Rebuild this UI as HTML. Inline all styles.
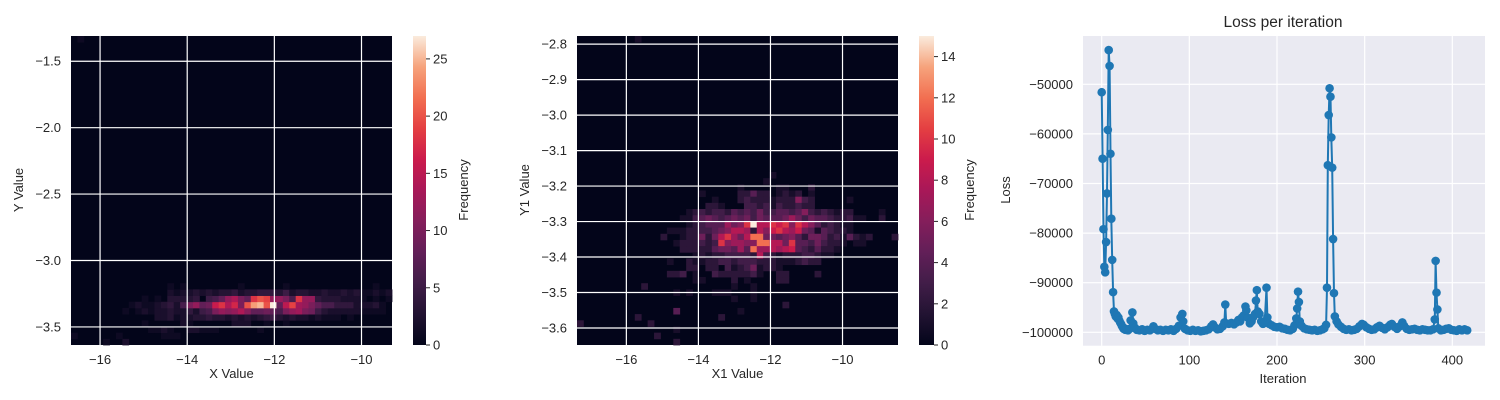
<!DOCTYPE html>
<html><head><meta charset="utf-8">
<style>
html,body{margin:0;padding:0;background:#fff;}
svg{display:block;font-family:"Liberation Sans",Arial,sans-serif;}
</style></head>
<body>
<svg id="fig" width="1500" height="400" viewBox="0 0 1500 400" xmlns="http://www.w3.org/2000/svg">
<defs>
<linearGradient id="rocket" x1="0" y1="1" x2="0" y2="0"></linearGradient>
</defs>
<g id="p1"></g>
<g id="p2"></g>
<g id="p3"></g>
</svg>
<script>
// ---------- Panel 1 data (2D histogram, 50x50 bins; base-36 counts) ----------
const h1Rows   = [0,1,2,3,4,5,6,7,8,9,49];
const h1Starts = [0,0,0,0,0,0,0,0,0,0,1];
const h1Vals = [
"0000010020000000000000000000000000000000000000000",
"10000001000000111000000000000000000000000000000000",
"00000000000011210022111000000100000000000000000000",
"00000000000100000210000002220010010000000000000000",
"00000000000002231223343323232345323221211101000000",
"000000001012122322425 6acbceb88986acda9532222211110".replace(' ',''),
"0000000001211234 26ac89giehakopkr8fjdca866444222310".replace(' ',''),
"00000000000101033334056 8cea8ikjcca6icc433322210101".replace(' ',''),
"000000000000000212232323342334443523322322323 11212".replace(' ',''),
"00000000000000010100000000100000010000000000000100",
"1"
];
const h1Xticks = [-16,-14,-12,-10];
const h1Yticks = [-1.5,-2.0,-2.5,-3.0,-3.5];
const h1Cticks = [0,5,10,15,20,25];

// ---------- Panel 2 data ----------
const h2Rows   = [27,26,25,24,23,22,21,20,19,18,17,16,15,14,13,12,11,10,9,8,7,6,5,4,3,2,1,0,49];
const h2Starts = [30,29,25,19,21,20,17,16,17,14,13,15,16,18,14,17,14,18,10,15,24,32,15,9,0,15,12,15,9];
const h2Vals = [
"1","1","100000110002","100000224220121201",
"1000232221222632000001",
"22100033231322322",
"1232332434353344346323212200001",
"11345434545354445753544322311002",
"123444756af88a9a6a86423211",
"11122334568872869a87954143221",
"2001225258a758cc554564255423142120002",
"1222323a67766cc885a44353221011",
"22222455474c7787894324221",
"1212233332832122233211",
"100211223323332221112322",
"220220312351221",
"223010032222231002200002",
"110000201000022",
"20000000000000100 1".replace(' ',''),
"1010001110001",
"1001","2","40000000001","20000000000002","200000000002","1","2","2","1"
];
const h2Xticks = [-16,-14,-12,-10];
const h2Yticks = [-2.8,-2.9,-3.0,-3.1,-3.2,-3.3,-3.4,-3.5,-3.6];
const h2Cticks = [0,2,4,6,8,10,12,14];

// ---------- Panel 3 data (loss per iteration) ----------
const lossIter = [0,1,2,3,4,5,6,7,8,9,10,11,12,13,14,15,16,17,18,19,20,21,22,23,24,25,26,27,28,30,32,33,35,36,38,40,43,46,49,52,55,58,59,61,64,67,70,73,76,79,82,85,88,90,92,93,95,98,101,104,107,110,113,116,119,122,125,127,129,132,135,138,140,141,142,145,148,151,154,156,158,160,162,164,165,167,169,171,173,175,176,177,178,180,182,184,186,188,189,191,194,197,200,203,206,209,212,215,218,220,222,223,224,225,226,228,231,234,237,240,243,246,249,252,254,256,257,258,259,260,261,262,263,264,265,266,268,270,273,276,279,282,285,288,291,294,297,299,302,305,308,311,314,317,320,323,326,329,331,334,337,340,343,345,348,351,354,357,360,363,366,369,372,375,378,380,381,382,383,384,387,390,393,396,399,402,405,408,411,414,417];
const lossVal = [-51600,-65000,-79200,-86800,-87900,-81800,-72000,-59200,-43100,-46300,-64000,-77100,-85400,-91900,-95800,-96300,-96800,-96500,-97200,-97000,-97600,-98000,-98300,-98700,-99000,-99300,-99200,-99500,-99400,-99600,-99300,-97600,-96000,-98200,-99100,-99500,-99600,-99400,-99700,-99500,-99600,-99200,-98800,-99300,-99600,-99500,-99700,-99500,-99600,-99400,-99700,-99300,-98700,-97000,-96300,-97800,-99300,-99600,-99700,-99500,-99700,-99600,-99800,-99700,-99600,-99400,-98800,-98400,-99000,-99400,-99300,-98800,-98000,-94400,-98200,-98300,-98100,-98400,-98000,-97500,-97800,-97000,-96600,-94800,-95600,-97100,-98200,-97800,-96900,-96300,-93600,-91500,-95800,-96300,-97800,-98300,-98000,-91000,-97000,-98300,-98600,-98900,-99000,-98900,-99200,-99300,-99500,-99600,-99300,-98600,-97200,-95200,-91800,-93900,-97800,-98700,-99200,-99400,-99500,-99600,-99500,-99700,-99600,-99400,-99200,-98500,-91000,-66300,-56200,-50800,-52500,-60700,-66800,-81200,-92100,-96800,-97800,-98400,-98900,-99300,-99500,-99400,-99600,-99500,-99300,-98800,-98300,-98500,-99000,-99300,-99500,-99400,-99000,-98700,-99100,-99400,-99000,-98500,-98300,-98900,-99300,-98800,-98000,-98700,-99300,-99500,-99400,-99300,-99500,-99600,-99400,-99500,-99600,-99600,-99400,-97400,-85600,-92000,-95400,-99200,-99600,-99500,-99300,-99200,-99500,-99600,-99700,-99400,-99600,-99400,-99600];
const lossXticks = [0,100,200,300,400];
const lossYticks = [-50000,-60000,-70000,-80000,-90000,-100000];

// ---------- helpers ----------
const NS = "http://www.w3.org/2000/svg";
function el(tag, attrs, parent){ const e=document.createElementNS(NS,tag); for(const k in attrs) e.setAttribute(k,attrs[k]); parent.appendChild(e); return e; }
const stops = [[3,5,26],[34,19,50],[65,29,72],[98,31,88],[132,30,91],[168,24,88],[203,27,76],[228,63,66],[242,111,81],[246,163,124],[250,235,221]];
function cmap(t){ t=Math.max(0,Math.min(1,t)); const p=t*10, i=Math.min(9,Math.floor(p)), f=p-i; const a=stops[i], b=stops[i+1];
  return "rgb("+[0,1,2].map(k=>Math.round(a[k]+(b[k]-a[k])*f)).join(",")+")"; }
const grad = document.getElementById('rocket');
stops.forEach((s,i)=>{ el('stop',{offset:(i*10)+'%','stop-color':'rgb('+s.join(',')+')'},grad); });
function fmt(v,d){ const s=Math.abs(v).toFixed(d); return (v<0?'\u2212':'')+s; }
function txt(parent, x, y, s, opts){ const t=el('text',Object.assign({x:x,y:y,'font-size':13,fill:'#262626'},opts||{}),parent); t.textContent=s; return t; }

function heatmap(g, cfg, rows, starts, vals, xt, yt, ct){
  const sx = v => cfg.L + (v-cfg.xmin)/(cfg.xmax-cfg.xmin)*(cfg.R-cfg.L);
  const sy = v => cfg.T + (cfg.ymax-v)/(cfg.ymax-cfg.ymin)*(cfg.B-cfg.T);
  const bg = el('rect',{x:cfg.L,y:cfg.T,width:cfg.R-cfg.L,height:cfg.B-cfg.T,fill:cmap(0)},g);
  
  
  const bw=(cfg.xmax-cfg.xmin)/50, bh=(cfg.ymax-cfg.ymin)/50;
  rows.forEach((r,i)=>{
    const s=vals[i];
    for(let j=0;j<s.length;j++){
      const v=parseInt(s[j],36); if(!v) continue;
      const c=starts[i]+j;
      const x0=sx(cfg.xmin+c*bw), x1=sx(cfg.xmin+(c+1)*bw);
      const y0=sy(cfg.ymin+(r+1)*bh), y1=sy(cfg.ymin+r*bh);
      const cell=el('rect',{x:x0,y:y0,width:x1-x0+0.4,height:y1-y0+0.4,fill:cmap(v/cfg.vmax)},g);
      
      
    }
  });
  xt.forEach(v=>{ const x=sx(v);
    const l=el('line',{x1:x,x2:x,y1:cfg.T,y2:cfg.B,stroke:'#fff','stroke-width':1.2},g);
    
    
    const t=txt(g,x,cfg.B+19,fmt(v,0),{'text-anchor':'middle'});
    
    
  });
  yt.forEach(v=>{ const y=sy(v);
    const l=el('line',{x1:cfg.L,x2:cfg.R,y1:y,y2:y,stroke:'#fff','stroke-width':1.2},g);
    
    
    const t=txt(g,cfg.L-10,y+4.5,fmt(v,1),{'text-anchor':'end'});
    
    
  });
  // colorbar
  const cb=el('rect',{x:cfg.cbL,y:cfg.T,width:cfg.cbW,height:cfg.B-cfg.T,fill:'url(#rocket)'},g);
  
  
  ct.forEach(v=>{ const y=cfg.B-(v/cfg.vmax)*(cfg.B-cfg.T);
    const l=el('line',{x1:cfg.cbL+cfg.cbW,x2:cfg.cbL+cfg.cbW+4,y1:y,y2:y,stroke:'#262626','stroke-width':1},g);
    
    
    const t=txt(g,cfg.cbL+cfg.cbW+7,y+4.5,String(v),{});
    
    
  });
  const xl=txt(g,(cfg.L+cfg.R)/2,378,cfg.xlabel,{'text-anchor':'middle'});
  
  
  const yl=txt(g,0,0,cfg.ylabel,{'text-anchor':'middle',transform:'translate('+cfg.ylx+',190) rotate(-90)'});
  
  
  const cl=txt(g,0,0,'Frequency',{'text-anchor':'middle',transform:'translate('+cfg.clx+',190) rotate(-90)'});
  
  
}

heatmap(document.getElementById('p1'),
  {L:71,R:392,T:36,B:345,xmin:-16.667,xmax:-9.30,ymin:-3.636,ymax:-1.31,vmax:27,cbL:413,cbW:13,xlabel:'X Value',ylabel:'Y Value',ylx:23,clx:468},
  h1Rows,h1Starts,h1Vals,h1Xticks,h1Yticks,h1Cticks);
heatmap(document.getElementById('p2'),
  {L:577,R:898,T:36,B:345,xmin:-17.37,xmax:-8.46,ymin:-3.648,ymax:-2.777,vmax:15,cbL:919,cbW:15,xlabel:'X1 Value',ylabel:'Y1 Value',ylx:529,clx:974},
  h2Rows,h2Starts,h2Vals,h2Xticks,h2Yticks,h2Cticks);

// ---------- loss chart ----------
(function(){
  const g=document.getElementById('p3');
  const L=1083,R=1485,T=36,B=345.7;
  const sx = it => 1101.7 + it*0.8765;
  const sy = v => 84.3 + (-50000 - v)/10000*49.6;
  const bg=el('rect',{x:L,y:T,width:R-L,height:B-T,fill:'#eaeaf2'},g);
  
  
  lossXticks.forEach(v=>{ const x=sx(v);
    const l=el('line',{x1:x,x2:x,y1:T,y2:B,stroke:'#fff','stroke-width':1.2},g);
    
    
    const t=txt(g,x,B+19,String(v),{'text-anchor':'middle'});
    
    
  });
  lossYticks.forEach(v=>{ const y=sy(v);
    const l=el('line',{x1:L,x2:R,y1:y,y2:y,stroke:'#fff','stroke-width':1.2},g);
    
    
    const t=txt(g,L-10,y+4.5,fmt(v,0),{'text-anchor':'end'});
    
    
  });
  const pts=lossIter.map((it,i)=>sx(it).toFixed(1)+','+sy(lossVal[i]).toFixed(1)).join(' ');
  const line=el('polyline',{points:pts,fill:'none',stroke:'#1f77b4','stroke-width':2,'stroke-linejoin':'round'},g);
  
  
  lossIter.forEach((it,i)=>{
    const c=el('circle',{cx:sx(it),cy:sy(lossVal[i]),r:4.3,fill:'#1f77b4'},g);
    
    
  });
  const title=txt(g,1283,27,'Loss per iteration',{'text-anchor':'middle','font-size':15.5});
  
  
  const xl=txt(g,1283,383,'Iteration',{'text-anchor':'middle'});
  
  
  const yl=txt(g,0,0,'Loss',{'text-anchor':'middle',transform:'translate(1010,190) rotate(-90)'});
  
  
})();
</script>
</body></html>
